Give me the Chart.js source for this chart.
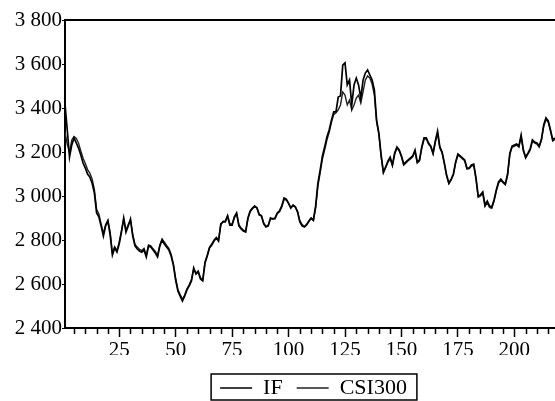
<!DOCTYPE html>
<html>
<head>
<meta charset="utf-8">
<script src="https://cdn.jsdelivr.net/npm/chart.js@4.4.1/dist/chart.umd.min.js"></script>
<style>
  html, body { margin: 0; padding: 0; background: #fff; }
  #wrap { width: 555px; height: 401px; }
</style>
</head>
<body>
<div id="wrap"><canvas id="chart" width="555" height="401"></canvas></div>
<script>
// series names
let seriesNames = ["IF", "CSI300"];

let ifValues = [
  3418, 3300, 3177, 3232, 3264, 3241, 3218, 3186, 3150, 3127,
  3100, 3086, 3059, 3014, 2923, 2905, 2864, 2818, 2864, 2886,
  2823, 2732, 2764, 2745, 2782, 2836, 2900, 2836, 2864, 2895,
  2818, 2773, 2759, 2750, 2745, 2755, 2723, 2773, 2768, 2755,
  2741, 2723, 2773, 2800, 2782, 2768, 2755, 2727, 2686, 2618,
  2568, 2545, 2523, 2545, 2573, 2591, 2614, 2673, 2645, 2655,
  2623, 2614, 2695, 2727, 2764, 2777, 2795, 2809, 2795, 2873,
  2882, 2882, 2909, 2868, 2868, 2905, 2923, 2864, 2850, 2841,
  2836, 2900, 2932, 2945, 2955, 2945, 2914, 2909, 2873, 2859,
  2864, 2900, 2895, 2900, 2923, 2932, 2955, 2991, 2986, 2968,
  2945, 2959, 2950, 2927, 2882, 2864, 2859, 2868, 2886, 2900,
  2891, 2955, 3059, 3118, 3182, 3223, 3268, 3300, 3345, 3382,
  3382, 3450, 3455, 3595, 3605, 3505, 3527, 3414, 3505, 3536,
  3505, 3445, 3527, 3559, 3573, 3550, 3527, 3482, 3345, 3286,
  3186, 3109, 3132, 3159, 3177, 3141, 3195, 3223, 3209, 3182,
  3145, 3155, 3164, 3173, 3182, 3209, 3155, 3164, 3223, 3264,
  3264, 3241, 3227, 3195, 3250, 3295, 3223, 3200, 3150, 3095,
  3059, 3077, 3100, 3155, 3191, 3182, 3173, 3164, 3127, 3127,
  3141, 3145, 3082, 3000, 3005, 3018, 2959, 2977, 2955, 2950,
  2982, 3027, 3064, 3077, 3064, 3055, 3100, 3195, 3227, 3232,
  3236, 3227, 3277, 3209, 3177, 3195, 3214, 3255, 3245, 3241,
  3227, 3259, 3323, 3355, 3341, 3300, 3255, 3264
];

// CSI300 values
let csiValues = [
  3290, 3235, 3198, 3255, 3270, 3262, 3240, 3205, 3172, 3148,
  3120, 3104, 3078, 3030, 2940, 2918, 2872, 2830, 2870, 2890,
  2835, 2740, 2770, 2752, 2790, 2842, 2895, 2845, 2870, 2890,
  2826, 2780, 2768, 2758, 2752, 2762, 2730, 2778, 2774, 2760,
  2748, 2730, 2778, 2805, 2790, 2775, 2762, 2735, 2692, 2625,
  2575, 2552, 2530, 2550, 2578, 2596, 2620, 2668, 2650, 2660,
  2628, 2620, 2700, 2732, 2768, 2782, 2800, 2812, 2800, 2868,
  2886, 2886, 2912, 2874, 2872, 2900, 2920, 2870, 2855, 2845,
  2840, 2895, 2928, 2942, 2950, 2948, 2918, 2912, 2878, 2862,
  2868, 2895, 2898, 2896, 2920, 2928, 2950, 2984, 2982, 2965,
  2948, 2955, 2952, 2930, 2888, 2870, 2862, 2872, 2884, 2898,
  2888, 2945, 3045, 3105, 3168, 3210, 3255, 3290, 3335, 3370,
  3378, 3391, 3414, 3473, 3459, 3414, 3436, 3391, 3414, 3445,
  3459, 3423, 3473, 3527, 3546, 3536, 3509, 3459, 3336, 3280,
  3180, 3104, 3128, 3152, 3170, 3138, 3190, 3218, 3205, 3178,
  3140, 3150, 3160, 3168, 3178, 3202, 3150, 3160, 3218, 3258,
  3260, 3236, 3222, 3190, 3244, 3284, 3218, 3196, 3146, 3090,
  3055, 3072, 3096, 3150, 3186, 3178, 3168, 3160, 3122, 3124,
  3136, 3140, 3078, 2994, 3000, 3012, 2952, 2970, 2948, 2944,
  2976, 3022, 3058, 3072, 3060, 3050, 3094, 3188, 3222, 3226,
  3232, 3222, 3270, 3204, 3172, 3190, 3208, 3250, 3240, 3236,
  3222, 3254, 3316, 3348, 3336, 3296, 3250, 3258
];

// axis ticks
let yTicks = [2400, 2600, 2800, 3000, 3200, 3400, 3600, 3800];
let xLabels = [25, 50, 75, 100, 125, 150, 175, 200];

let serif = "'Liberation Serif', 'Times New Roman', serif";
Chart.defaults.font.family = serif;
Chart.defaults.font.size = 21;
Chart.defaults.color = "#000";

// "3800" -> "3 800"
let spaced = (v) => String(v).replace(/\B(?=(\d{3})+(?!\d))/g, " ");

let toPoints = (values) => values.map((v, i) => ({ x: i + 1, y: v }));

// frame on top, minor ticks on the x axis, box round the legend
let framePlugin = {
  id: "frame",
  afterLayout(chart) {
    let lg = chart.legend;
    lg.left += 36;
    lg.right += 36;
    lg.top += 8;
    lg.bottom += 8;
  },
  afterDraw(chart) {
    let ctx = chart.ctx;
    let area = chart.chartArea;
    let x = chart.scales.x;
    ctx.save();
    ctx.strokeStyle = "#000";
    ctx.lineWidth = 2;
    ctx.beginPath();
    ctx.moveTo(area.left - 1, area.top);
    ctx.lineTo(area.right, area.top);
    ctx.stroke();

    ctx.lineWidth = 1.5;
    x.ticks.forEach((t) => {
      if (xLabels.includes(t.value)) return;
      let px = Math.round(x.getPixelForValue(t.value)) + 0.5;
      ctx.beginPath();
      ctx.moveTo(px, area.bottom);
      ctx.lineTo(px, area.bottom + 6);
      ctx.stroke();
    });

    let hb = chart.legend.legendHitBoxes;
    if (hb && hb.length) {
      let first = hb[0];
      let last = hb[hb.length - 1];
      let cy = first.top + first.height / 2;
      ctx.lineWidth = 1.5;
      ctx.strokeRect(first.left - 9, cy - 14, last.left + last.width - first.left + 19, 26);
    }
    ctx.restore();
  }
};

new Chart(document.getElementById("chart"), {
  type: "line",
  data: {
    datasets: [
      {
        label: seriesNames[0],
        data: toPoints(ifValues),
        borderColor: "#000",
        backgroundColor: "#000",
        borderWidth: 1.7,
        pointRadius: 0,
        tension: 0,
      },
      {
        label: seriesNames[1],
        data: toPoints(csiValues),
        borderColor: "#222",
        backgroundColor: "#222",
        borderWidth: 1.4,
        pointRadius: 0,
        tension: 0,
      },
    ],
  },
  options: {
    responsive: false,
    animation: false,
    devicePixelRatio: 1,
    layout: { padding: { top: 20, left: 0, right: 0, bottom: 0 } },
    plugins: {
      tooltip: { enabled: false },
      legend: {
        position: "bottom",
        labels: {
          boxWidth: 32,
          boxHeight: 0,
          padding: 14,
          color: "#000",
          font: { family: serif, size: 22 },
        },
      },
    },
    scales: {
      x: {
        type: "linear",
        min: 1,
        max: 218,
        afterBuildTicks: (s) => {
          let ticks = [];
          for (let v = 5; v <= 215; v += 5) ticks.push({ value: v });
          s.ticks = ticks;
        },
        afterFit: (s) => {
          s.height = 27;
        },
        border: { color: "#000", width: 2 },
        grid: {
          drawOnChartArea: false,
          tickLength: 9,
          tickWidth: 1.5,
          tickColor: (c) => (c.tick && xLabels.includes(c.tick.value) ? "#000" : "rgba(0,0,0,0)"),
        },
        ticks: {
          autoSkip: false,
          maxRotation: 0,
          padding: 1,
          color: "#000",
          callback: (v) => (xLabels.includes(v) ? String(v) : ""),
        },
      },
      y: {
        min: 2400,
        max: 3800,
        afterBuildTicks: (s) => {
          s.ticks = yTicks.map((v) => ({ value: v }));
        },
        afterFit: (s) => {
          s.width = 65;
        },
        border: { color: "#000", width: 2 },
        grid: { drawOnChartArea: false, tickLength: 3, color: "#000" },
        ticks: {
          padding: 0,
          color: "#000",
          callback: (v) => spaced(v),
        },
      },
    },
  },
  plugins: [framePlugin],
});
</script>
</body>
</html>
